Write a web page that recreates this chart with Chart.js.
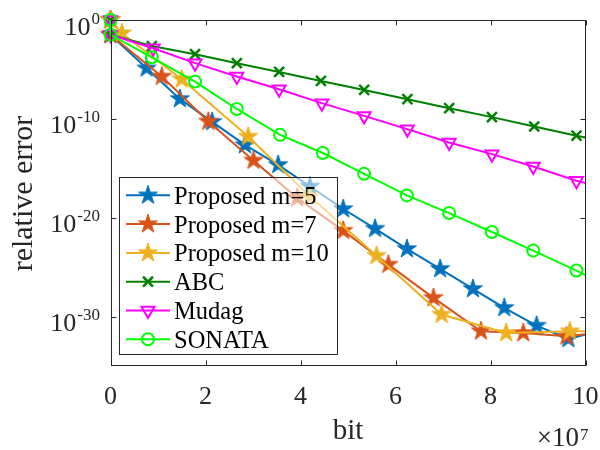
<!DOCTYPE html>
<html>
<head>
<meta charset="utf-8">
<script src="https://cdn.jsdelivr.net/npm/chart.js@4/dist/chart.umd.min.js"></script>
<style>
html,body{margin:0;padding:0;background:#fff;}
#wrap{width:600px;height:450px;position:relative;}
</style>
</head>
<body>
<div id="wrap"><canvas id="c"></canvas></div>
<script>
// ---- data (x: bits, y: relative error) ----
const seriesNames = ['Proposed m=5', 'Proposed m=7', 'Proposed m=10', 'ABC', 'Mudag', 'SONATA'];

const m5Bits = [0, 0, 0.76e7, 1.46e7, 2.14e7, 2.83e7, 3.53e7, 4.20e7, 4.90e7, 5.57e7, 6.24e7, 6.94e7, 7.63e7, 8.29e7, 8.97e7, 9.64e7, 10e7];
const m5Err  = [1, 3.2e-2, 1.3e-5, 1.05e-8, 5.0e-11, 2.3e-13, 2.2e-15, 1.45e-17, 7.6e-20, 7.8e-22, 6.9e-24, 6.6e-26, 6.3e-28, 7.6e-30, 1.2e-31, 5.6e-33, 1.5e-32];

const m7Bits = [0, 0, 1.08e7, 2.06e7, 3.01e7, 3.93e7, 4.90e7, 5.85e7, 6.80e7, 7.80e7, 8.69e7, 9.60e7, 10e7];
const m7Err  = [1, 3.2e-2, 1.9e-6, 5.4e-11, 6.2e-15, 9.8e-19, 4.9e-22, 1.8e-25, 7.8e-29, 3.3e-32, 2.2e-32, 1.0e-32, 1.6e-32];

const m10Bits = [0, 0.24e7, 1.50e7, 2.90e7, 4.20e7, 5.60e7, 6.97e7, 8.33e7, 9.67e7, 10e7];
const m10Err  = [1, 4.6e-2, 1.0e-6, 1.6e-12, 1.4e-18, 1.45e-24, 1.6e-30, 2.2e-32, 3.3e-32, 3.2e-32];

const abcBits = [0, 0, 0.87e7, 1.78e7, 2.66e7, 3.55e7, 4.43e7, 5.34e7, 6.25e7, 7.13e7, 8.03e7, 8.92e7, 9.81e7, 10e7];
const abcErr  = [1, 3.2e-2, 2.3e-3, 3.5e-4, 4.3e-5, 5.6e-6, 6.9e-7, 8.5e-8, 9.8e-9, 1.2e-9, 1.5e-10, 1.7e-11, 2.0e-12, 1.3e-12];

const mudagBits = [0, 0, 0.90e7, 1.78e7, 2.66e7, 3.55e7, 4.45e7, 5.34e7, 6.25e7, 7.13e7, 8.03e7, 8.90e7, 9.81e7, 10e7];
const mudagErr  = [1, 3.2e-2, 1.4e-3, 4.3e-5, 1.9e-6, 1.0e-7, 3.9e-9, 2.0e-10, 9.1e-12, 4.1e-13, 2.7e-14, 1.5e-15, 5.5e-17, 3.2e-17];

const sonataBits = [0, 0, 0.87e7, 1.78e7, 2.66e7, 3.57e7, 4.47e7, 5.34e7, 6.24e7, 7.13e7, 8.03e7, 8.90e7, 9.81e7, 10e7];
const sonataErr  = [1, 3.2e-2, 1.7e-4, 5.9e-7, 1.0e-9, 2.4e-12, 3.5e-14, 2.75e-16, 1.8e-18, 2.95e-20, 3.6e-22, 4.7e-24, 4.5e-26, 1.6e-26];

const xTickVals = [0, 2e7, 4e7, 6e7, 8e7, 10e7];
const yTickVals = [1e-30, 1e-20, 1e-10, 1];
const xLabel = 'bit';
const yLabel = 'relative error';

// ---- styles ----
const FONT = '"Liberation Serif", "Times New Roman", serif';
const AX = '#262626';
const colors = ['#0072BD', '#D95319', '#EDB120', '#008000', '#FF00FF', '#00FF00'];

function makeStar(color, R) {
  const s = Math.ceil(2 * R + 4);
  const c = document.createElement('canvas');
  c.width = s; c.height = s;
  const g = c.getContext('2d');
  const cx = s / 2, cy = s / 2;
  g.beginPath();
  for (let k = 0; k < 10; k++) {
    const rr = (k % 2) ? R * 0.382 : R;
    const a = -Math.PI / 2 + k * Math.PI / 5;
    g.lineTo(cx + rr * Math.cos(a), cy + rr * Math.sin(a));
  }
  g.closePath();
  g.fillStyle = color; g.fill();
  g.strokeStyle = color; g.lineWidth = 1; g.stroke();
  return c;
}
const stars = [makeStar(colors[0], 10), makeStar(colors[1], 10), makeStar(colors[2], 10)];

function pts(xs, ys) { return xs.map((x, i) => ({x: x, y: ys[i]})); }
function radii(xs, r) { return xs.map((_, i) => i === xs.length - 1 ? 0 : r); }

const allBits = [m5Bits, m7Bits, m10Bits, abcBits, mudagBits, sonataBits];
const allErr = [m5Err, m7Err, m10Err, abcErr, mudagErr, sonataErr];
const markerKinds = ['star', 'star', 'star', 'cross', 'tri', 'circ'];

const datasets = seriesNames.map((name, i) => {
  const kind = markerKinds[i];
  const ds = {
    label: name,
    data: pts(allBits[i], allErr[i]),
    borderColor: colors[i],
    backgroundColor: colors[i],
    borderWidth: 2,
    tension: 0,
    clip: false,
    order: 6 - i,
    pointBorderColor: colors[i],
    pointBackgroundColor: 'rgba(0,0,0,0)',
    pointHoverRadius: 0
  };
  if (kind === 'star') {
    ds.pointStyle = stars[i];
    ds.pointRadius = radii(allBits[i], 10);
  } else if (kind === 'cross') {
    ds.pointStyle = 'crossRot';
    ds.pointRadius = radii(allBits[i], 7);
    ds.pointBorderWidth = 2.5;
  } else if (kind === 'tri') {
    ds.pointStyle = 'triangle';
    ds.pointRotation = 180;
    ds.pointRadius = radii(allBits[i], 7.5);
    ds.pointBorderWidth = 2;
  } else {
    ds.pointStyle = 'circle';
    ds.pointRadius = radii(allBits[i], 6);
    ds.pointBorderWidth = 2;
  }
  return ds;
});

function drawMarker(ctx, i, x, y) {
  const kind = markerKinds[i], col = colors[i];
  ctx.save();
  ctx.strokeStyle = col;
  if (kind === 'star') {
    const im = stars[i];
    ctx.drawImage(im, x - im.width / 2, y - im.height / 2);
  } else if (kind === 'cross') {
    const d = 7 * Math.SQRT1_2;
    ctx.lineWidth = 2.5;
    ctx.beginPath();
    ctx.moveTo(x - d, y - d); ctx.lineTo(x + d, y + d);
    ctx.moveTo(x - d, y + d); ctx.lineTo(x + d, y - d);
    ctx.stroke();
  } else if (kind === 'tri') {
    const r = 7.5;
    ctx.lineWidth = 2;
    ctx.beginPath();
    for (let k = 0; k < 3; k++) {
      const a = Math.PI + k * 2 * Math.PI / 3;
      ctx.lineTo(x + Math.sin(a) * r, y - Math.cos(a) * r);
    }
    ctx.closePath(); ctx.stroke();
  } else {
    ctx.lineWidth = 2;
    ctx.beginPath(); ctx.arc(x, y, 6, 0, Math.PI * 2); ctx.stroke();
  }
  ctx.restore();
}

const framePlugin = {
  id: 'frame',
  afterDatasetsDraw(chart) {
    const ctx = chart.ctx;
    const a = chart.chartArea;
    const xs = chart.scales.x, ys = chart.scales.y;
    ctx.save();
    ctx.strokeStyle = AX;
    ctx.lineWidth = 1;
    const L = Math.round(a.left) + 0.5, R = Math.round(a.right) - 0.5;
    const T = Math.round(a.top) + 0.5, B = Math.round(a.bottom) - 0.5;
    ctx.strokeRect(L, T, R - L, B - T);
    const tl = 5;
    ctx.beginPath();
    xs.ticks.forEach(t => {
      const px = Math.round(xs.getPixelForValue(t.value)) + 0.5;
      ctx.moveTo(px, B); ctx.lineTo(px, B - tl);
      ctx.moveTo(px, T); ctx.lineTo(px, T + tl);
    });
    ys.ticks.forEach(t => {
      const py = Math.round(ys.getPixelForValue(t.value)) + 0.5;
      ctx.moveTo(L, py); ctx.lineTo(L + tl, py);
      ctx.moveTo(R, py); ctx.lineTo(R - tl, py);
    });
    ctx.stroke();

    // y tick labels 10^e
    ctx.fillStyle = AX;
    ys.ticks.forEach(t => {
      const py = ys.getPixelForValue(t.value);
      const e = Math.round(Math.log10(t.value));
      const es = String(e);
      ctx.font = '17px ' + FONT;
      const ew = ctx.measureText(es).width;
      const rightEdge = 100;
      ctx.textAlign = 'left'; ctx.textBaseline = 'alphabetic';
      ctx.fillText(es, rightEdge - ew, py + 3.5);
      ctx.font = '26px ' + FONT;
      ctx.textAlign = 'right';
      ctx.fillText('10', rightEdge - ew - 1, py + 14.5);
    });

    // axis titles
    ctx.font = '29px ' + FONT;
    ctx.textAlign = 'center'; ctx.textBaseline = 'alphabetic';
    ctx.fillText(xLabel, (a.left + a.right) / 2, 439);
    ctx.font = '30px ' + FONT;
    ctx.save();
    ctx.translate(31.5, 193.5);
    ctx.rotate(-Math.PI / 2);
    ctx.fillText(yLabel, 0, 0);
    ctx.restore();

    // x exponent
    ctx.font = '17px ' + FONT;
    ctx.textAlign = 'left';
    ctx.fillText('7', 580, 440);
    ctx.font = '27px ' + FONT;
    ctx.textAlign = 'right';
    ctx.fillText('\u00d710', 579, 446);
    ctx.restore();
  },
  afterDraw(chart) {
    const ctx = chart.ctx;
    ctx.save();
    const bx = 119.5, by = 177.5, bw = 218, bh = 177;
    ctx.fillStyle = 'rgba(255,255,255,0.55)';
    ctx.fillRect(bx, by, bw, bh);
    ctx.strokeStyle = AX; ctx.lineWidth = 1;
    ctx.strokeRect(bx, by, bw, bh);
    const y0 = 195.3, step = 28.8;
    ctx.font = '24.5px ' + FONT;
    ctx.textAlign = 'left'; ctx.textBaseline = 'alphabetic';
    seriesNames.forEach((name, i) => {
      const y = y0 + i * step;
      ctx.strokeStyle = colors[i]; ctx.lineWidth = 2;
      ctx.beginPath(); ctx.moveTo(126, y); ctx.lineTo(170, y); ctx.stroke();
      drawMarker(ctx, i, 148, y);
      ctx.fillStyle = '#000';
      ctx.fillText(name, 174, y + 8.5);
    });
    ctx.restore();
  }
};

new Chart(document.getElementById('c'), {
  type: 'line',
  data: { datasets: datasets },
  plugins: [framePlugin],
  options: {
    responsive: true,
    maintainAspectRatio: false,
    animation: false,
    events: [],
    layout: { padding: { left: 0, top: 20, right: 14.5, bottom: 0 } },
    plugins: { legend: { display: false }, tooltip: { enabled: false } },
    scales: {
      x: {
        type: 'linear', min: 0, max: 10e7,
        grid: { display: false, drawTicks: false },
        border: { display: false },
        afterBuildTicks: s => { s.ticks = xTickVals.map(v => ({ value: v })); },
        afterFit: s => { s.height = 84; s.paddingLeft = 0; s.paddingRight = 0; },
        ticks: {
          color: AX, padding: 15.5, maxRotation: 0, autoSkip: false,
          font: { family: FONT, size: 26 },
          callback: v => String(v / 1e7)
        }
      },
      y: {
        type: 'logarithmic', min: 1e-35, max: 1,
        grid: { display: false, drawTicks: false },
        border: { display: false },
        afterBuildTicks: s => { s.ticks = yTickVals.map(v => ({ value: v })); },
        afterFit: s => { s.width = 110.5; s.paddingTop = 0; s.paddingBottom = 0; },
        ticks: { display: false }
      }
    }
  }
});
</script>
</body>
</html>
